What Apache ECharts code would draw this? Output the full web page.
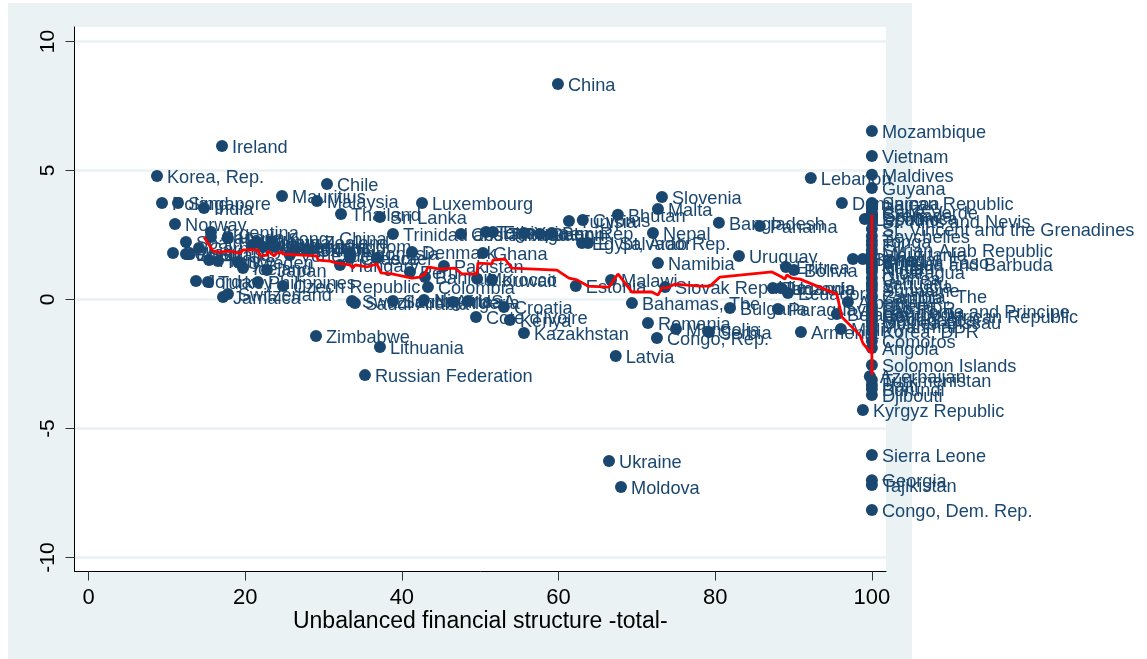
<!DOCTYPE html>
<html><head><meta charset="utf-8">
<style>html,body{margin:0;padding:0;background:#fff}
#bg{position:absolute;left:8px;top:3px;width:904px;height:656px;background:#EAF2F3}
#c{position:absolute;left:0;top:0;width:1147px;height:659px}</style>
<script src="https://cdn.jsdelivr.net/npm/echarts@6/dist/echarts.min.js"></script>
</head><body><div id="bg"></div><div id="c"></div>
<script>
const countries = ["China","Ireland","Korea, Rep.","Chile","Mauritius","Malaysia","Poland","Singapore","India","Norway","Thailand","Sri Lanka","Luxembourg","Trinidad and Tobago","Argentina","Canada","Hong Kong, China","Spain","Germany","Belgium","Brazil","Australia","France","Italy","Jordan","Turkey","Jamaica","Switzerland","Sweden","Iceland","Austria","Netherlands","Finland","Portugal","United Kingdom","New Zealand","Japan","Philippines","Czech Republic","Mexico","Oman","Venezuela","Indonesia","Greece","Hungary","Israel","Denmark","Peru","Ghana","Pakistan","Bahrain","Morocco","Kuwait","Colombia","Estonia","Malawi","Slovak Republic","Bahamas, The","Romania","Congo, Rep.","Mongolia","Latvia","Kazakhstan","Kenya","Croatia","Cote d'Ivoire","Zimbabwe","Lithuania","Russian Federation","Swaziland","Saudi Arabia","South Africa","Nigeria","Algeria","USA","Ukraine","Moldova","Tunisia","Cyprus","Bhutan","Malta","Slovenia","Nepal","Costa Rica","Togo","Ethiopia","Yemen, Rep.","Gabon","Benin","Egypt, Arab Rep.","El Salvador","Namibia","Uruguay","Bangladesh","Panama","Lebanon","Eritrea","Bolivia","Tanzania","Uganda","Ecuador","Bulgaria","Paraguay","Armenia","Serbia","Dominican Republic","Albania","Belarus","Mali","Lesotho","Ghana ","Senegal","Kyrgyz Republic","Azerbaijan","Mozambique","Vietnam","Maldives","Guyana","Samoa","Belize","Cape Verde","Grenada","Dominica","St. Kitts and Nevis","St. Vincent and the Grenadines","Seychelles","Tonga","Fiji","Syrian Arab Republic","Mauritania","Chad","Burkina Faso","Antigua and Barbuda","Sudan","Niger","Nicaragua","Guinea","Vanuatu","St. Lucia","Suriname","Gambia, The","Zambia","Liberia","Lao PDR","Sao Tome and Principe","Central African Republic","Cambodia","Madagascar","Guinea-Bissau","Myanmar","Korea, DPR","Comoros","Angola","Solomon Islands","Turkmenistan","Haiti","Burundi","Djibouti","Sierra Leone","Georgia","Tajikistan","Congo, Dem. Rep."];
const xValues = [59.92,17.04,8.74,30.44,24.7,29.16,9.38,11.42,14.74,11.04,32.23,37.2,42.57,38.86,15.63,15.63,17.8,12.44,14.1,10.78,12.44,12.95,15.38,16.53,13.72,15.25,17.17,17.8,19.08,19.72,20.87,22.27,23.8,21.5,23.42,23.42,22.78,21.63,24.82,26.36,27.9,25.7,33.38,33.38,32.1,36.8,41.29,41.03,50.35,45.37,42.95,49.6,51.5,43.33,62.2,66.7,73.6,69.37,71.41,72.56,74.99,67.3,55.58,53.79,53.03,49.46,29.04,37.2,35.29,33.63,34.01,38.86,42.82,46.52,48.45,66.44,67.97,61.33,63.1,67.58,72.69,73.2,72.05,47.54,50.73,51.63,55.58,57.63,59.15,62.99,63.76,72.69,83.03,80.47,85.7,92.2,89.03,90.05,87.36,88.38,89.28,81.88,88,90.94,79.2,96.17,96.94,95.53,96.04,99.1,97.58,98.85,98.85,99.74,100,100,100,100,100,100,100,100,100,100,100,100,100,100,100,100,100,100,100,100,100,100,100,100,100,100,100,100,100,100,100,100,100,100,100,100,100,100,100,100,100,100,100,100,100,100,100,100];
const yValues = [8.35,5.95,4.79,4.48,4.01,3.82,3.74,3.74,3.55,2.93,3.31,3.2,3.74,2.54,2.62,2.42,2.38,2.23,2,1.8,1.76,1.76,1.53,1.49,0.72,0.68,0.1,0.21,1.45,1.22,2.11,2.04,2.04,2.23,2.07,2.23,1.14,0.68,0.52,1.95,1.92,1.72,1.8,1.61,1.34,1.61,1.84,1.07,1.8,1.3,0.87,0.8,0.76,0.48,0.52,0.76,0.48,-0.14,-0.91,-1.49,-1.14,-2.19,-1.3,-0.79,-0.29,-0.68,-1.41,-1.84,-2.93,-0.06,-0.14,-0.06,-0.02,-0.1,-0.06,-6.26,-7.27,3.04,3.08,3.28,3.51,3.97,2.58,2.54,2.62,2.62,2.58,2.54,2.58,2.19,2.19,1.41,1.69,2.97,2.85,4.71,1.26,1.14,0.45,0.45,0.25,-0.33,-0.37,-1.26,-1.26,3.74,-0.1,-0.56,-1.14,3.12,1.57,1.57,-4.28,-2.97,6.53,5.56,4.83,4.32,3.74,3.55,3.39,3.28,3.16,3.04,2.73,2.46,2.27,2.11,1.92,1.76,1.53,1.45,1.38,1.26,1.18,1.07,0.83,0.64,0.52,0.37,0.14,0.1,-0.21,-0.33,-0.45,-0.64,-0.56,-0.76,-0.87,-1.03,-1.22,-1.61,-1.88,-2.54,-3.12,-3.31,-3.47,-3.7,-6.03,-7,-7.19,-8.16];
const lineX = [14.74,15.89,16.78,17.8,19.34,19.72,21.63,21.89,22.78,22.91,23.68,24.06,24.7,24.82,29.16,29.29,30.82,31.72,33.38,33.76,34.01,35.55,36.82,37.33,38.74,41.29,42.31,42.95,43.33,44.86,46.78,47.67,49.58,49.71,51.5,51.63,53.16,54.05,59.79,61.33,62.35,63.75,66.43,67.58,69.37,71.92,72.69,73.2,73.84,74.86,78.05,79.33,80.6,87.24,88.51,88.89,89.15,89.79,90.81,95.53,96.17,98.47,98.85,99.74,100,100,100];
const lineY = [2.42,1.88,1.84,1.88,1.8,1.92,1.92,1.69,1.72,1.88,1.69,1.8,1.84,1.76,1.69,1.53,1.49,1.41,1.34,1.22,1.34,1.26,1.38,1.03,0.99,0.83,0.87,0.99,1.26,1.18,1.22,0.99,0.99,1.41,1.38,1.53,1.57,1.22,1.14,0.83,0.76,0.52,0.48,0.99,0.29,0.29,0.17,0.45,0.45,0.6,0.52,0.52,0.87,1.07,0.87,0.79,0.95,0.83,0.79,0.21,-0.68,-1.38,-1.69,-2.03,-2.03,-2.93,3.28];
const xTicks = [0,20,40,60,80,100];
const yTicks = [-10,-5,0,5,10];
const xTitle = "Unbalanced financial structure -total-";
const navy = "#1a476f", font = "Liberation Sans";
const chart = echarts.init(document.getElementById('c'), null, {renderer:'canvas'});
chart.setOption({
  animation:false,
  backgroundColor:'transparent',
  textStyle:{fontFamily:font},
  grid:{left:74.5,right:261,top:27,bottom:87.5,show:true,backgroundColor:'#fff',borderWidth:0},
  xAxis:{type:'value',min:-1.79,max:101.8,
    name:xTitle,nameLocation:'middle',nameGap:39,nameMoveOverlap:false,nameTextStyle:{fontFamily:font,fontSize:23,color:'#000'},
    axisLine:{show:true,onZero:false,lineStyle:{color:'#000',width:1}},
    axisTick:{show:true,length:9,customValues:xTicks,lineStyle:{color:'#333',width:1}},
    axisLabel:{customValues:xTicks,fontFamily:font,fontSize:22,color:'#000',margin:15,showMinLabel:true,showMaxLabel:true},
    splitLine:{show:false}},
  yAxis:{type:'value',min:-10.54,max:10.56,
    axisLine:{show:true,onZero:false,lineStyle:{color:'#000',width:1}},
    axisTick:{show:true,length:9,customValues:yTicks,lineStyle:{color:'#333',width:1}},
    axisLabel:{customValues:yTicks,rotate:90,fontFamily:font,fontSize:21,color:'#000',margin:15.5},
    splitLine:{show:true,lineStyle:{color:'#EAF2F3',width:2.5}}},
  series:[
   {type:'scatter',z:2,symbol:'circle',symbolSize:12,itemStyle:{color:navy,opacity:1},
    data:countries.map((n,i)=>({name:n,value:[xValues[i],yValues[i]]})),
    label:{show:true,position:'right',distance:4,formatter:'{b}',fontFamily:font,fontSize:18.2,color:navy},
    labelLayout:{hideOverlap:false,dy:2},clip:false},
   {type:'line',z:5,symbol:'none',smooth:false,lineStyle:{color:'#ff0000',width:2.8},
    data:lineX.map((x,i)=>[x,lineY[i]])}
  ]
});
</script></body></html>
